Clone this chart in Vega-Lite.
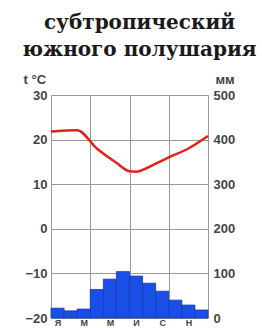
{
  "$schema": "https://vega.github.io/schema/vega-lite/v6.json",
  "autosize": "none",
  "width": 157,
  "height": 223,
  "padding": {"left": 51, "top": 95, "right": 54, "bottom": 10},
  "background": "white",
  "title": {
    "text": ["субтропический", "южного полушария"],
    "font": "DejaVu Serif",
    "fontSize": 20,
    "fontWeight": "bold",
    "lineHeight": 27,
    "color": "#1a1a1a",
    "anchor": "middle",
    "frame": "group",
    "offset": 13,
    "dx": 10
  },
  "config": {
    "view": {"stroke": null},
    "axis": {
      "labelFont": "Liberation Sans",
      "labelFontWeight": "bold",
      "labelFontSize": 13,
      "labelColor": "#444",
      "titleFont": "Liberation Sans",
      "titleFontWeight": "bold",
      "titleFontSize": 13,
      "titleColor": "#444",
      "gridColor": "#999",
      "gridOpacity": 1,
      "gridWidth": 1
    }
  },
  "datasets": {
    "precip": [
      {"month": "Я", "start": 0, "end": 1, "mm": 22},
      {"month": "Ф", "start": 1, "end": 2, "mm": 16},
      {"month": "М", "start": 2, "end": 3, "mm": 20},
      {"month": "А", "start": 3, "end": 4, "mm": 64},
      {"month": "М", "start": 4, "end": 5, "mm": 87},
      {"month": "И", "start": 5, "end": 6, "mm": 104},
      {"month": "И", "start": 6, "end": 7, "mm": 94},
      {"month": "А", "start": 7, "end": 8, "mm": 78},
      {"month": "С", "start": 8, "end": 9, "mm": 60},
      {"month": "О", "start": 9, "end": 10, "mm": 40},
      {"month": "Н", "start": 10, "end": 11, "mm": 29},
      {"month": "Д", "start": 11, "end": 12, "mm": 18}
    ],
    "temp": [
      {"pos": 0, "t": 21.8},
      {"pos": 2, "t": 22.1},
      {"pos": 3.5, "t": 18},
      {"pos": 5, "t": 14.8},
      {"pos": 6, "t": 12.9},
      {"pos": 6.5, "t": 12.8},
      {"pos": 7, "t": 13.2},
      {"pos": 8, "t": 14.6},
      {"pos": 9, "t": 16},
      {"pos": 10.5, "t": 18},
      {"pos": 12, "t": 20.8}
    ]
  },
  "layer": [
    {
      "data": {"name": "precip"},
      "mark": {"type": "bar", "color": "#1a4fe6", "stroke": "#1538b0", "strokeWidth": 0.8},
      "encoding": {
        "x": {
          "field": "start", "type": "quantitative",
          "scale": {"domain": [0, 12], "nice": false, "zero": false},
          "axis": {"orient": "bottom", "values": [0.5, 2.5, 4.5, 6.5, 8.5, 10.5],
            "labelExpr": "['Я','М','М','И','С','Н'][round((datum.value - 0.5) / 2)]",
            "grid": false, "ticks": false, "domain": false, "labelPadding": 0, "labelFontSize": 9, "title": null}
        },
        "x2": {"field": "end"},
        "y": {
          "field": "mm", "type": "quantitative",
          "scale": {"domain": [0, 500], "nice": false},
          "axis": {"orient": "right", "values": [0, 100, 200, 300, 400, 500], "grid": false, "ticks": false, "domain": false, "labelPadding": 5,
            "title": "мм", "titleAngle": 0, "titleAlign": "left", "titleBaseline": "middle", "titleX": 7, "titleY": -16}
        },
        "y2": {"datum": 0}
      }
    },
    {
      "data": {"name": "temp"},
      "mark": {"type": "line", "color": "#e0241b", "strokeWidth": 2.5, "interpolate": "monotone"},
      "encoding": {
        "x": {
          "field": "pos", "type": "quantitative",
          "scale": {"domain": [0, 12], "nice": false, "zero": false},
          "axis": {"orient": "top", "values": [0, 3, 6, 9, 12], "grid": true, "labels": false, "ticks": false, "domain": false, "title": null}
        },
        "y": {
          "field": "t", "type": "quantitative",
          "scale": {"domain": [-20, 30], "nice": false, "zero": false},
          "axis": {"orient": "left", "values": [-20, -10, 0, 10, 20, 30], "grid": true, "ticks": false, "domain": false, "labelPadding": 4,
            "title": "t °C", "titleAngle": 0, "titleAlign": "left", "titleBaseline": "middle", "titleX": -28, "titleY": -16}
        }
      }
    }
  ],
  "resolve": {"scale": {"y": "independent"}, "axis": {"x": "independent"}}
}
